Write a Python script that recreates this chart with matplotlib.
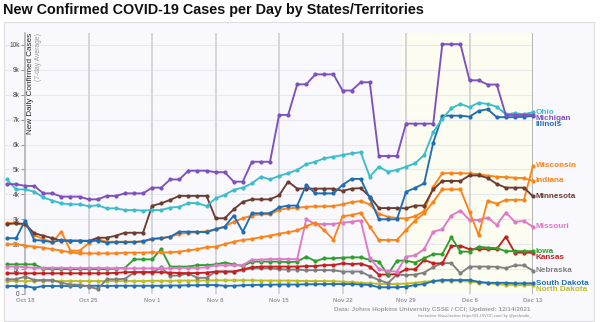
import matplotlib
matplotlib.use("Agg")
import matplotlib.pyplot as plt
import matplotlib.dates as mdates
from matplotlib.patches import Rectangle
import pandas as pd

plt.rcParams["font.family"] = ["Liberation Sans", "DejaVu Sans"]

# 7-day average of new daily cases, in thousands, Oct 16 .. Dec 13 2021
dates = pd.date_range("2021-10-16", "2021-12-13", freq="D")

ohio = [4.60, 4.20, 4.20, 4.11, 3.88, 3.75, 3.64, 3.60, 3.60, 3.53,
        3.56, 3.44, 3.44, 3.37, 3.37, 3.35, 3.37, 3.37, 3.47, 3.50,
        3.65, 3.65, 3.53, 3.84, 3.98, 4.18, 4.27, 4.44, 4.71, 4.60,
        4.74, 4.85, 4.98, 5.21, 5.31, 5.45, 5.51, 5.58, 5.65, 5.69,
        4.71, 5.11, 4.91, 4.98, 5.11, 5.25, 5.58, 6.50, 7.03, 7.46,
        7.63, 7.50, 7.68, 7.63, 7.52, 7.22, 7.26, 7.22, 7.30]
michigan = [4.41, 4.41, 4.34, 4.34, 4.04, 4.04, 3.91, 3.91, 3.91, 3.80,
            3.80, 3.94, 3.94, 4.04, 4.04, 4.04, 4.27, 4.27, 4.60, 4.60,
            4.95, 4.95, 4.95, 4.89, 4.89, 4.51, 4.51, 5.31, 5.31, 5.31,
            7.19, 7.19, 8.42, 8.42, 8.82, 8.82, 8.82, 8.17, 8.17, 8.50,
            8.50, 5.54, 5.54, 5.54, 6.84, 6.84, 6.84, 6.84, 10.03, 10.03,
            10.03, 8.58, 8.58, 8.41, 8.41, 7.19, 7.19, 7.19, 7.20]
illinois = [2.24, 2.24, 2.95, 2.17, 2.14, 2.08, 2.17, 2.14, 2.14, 2.14,
            2.14, 2.06, 2.08, 2.08, 2.08, 2.12, 2.22, 2.24, 2.30, 2.50,
            2.50, 2.50, 2.48, 2.60, 2.70, 3.15, 2.50, 3.24, 3.24, 3.24,
            3.48, 3.55, 3.55, 4.38, 4.04, 4.04, 4.04, 4.38, 4.62, 4.62,
            3.85, 3.00, 3.00, 3.00, 4.10, 4.26, 4.44, 6.08, 7.16, 7.16,
            7.16, 7.12, 7.35, 7.42, 7.10, 7.10, 7.10, 7.12, 7.15]
wisconsin = [2.00, 2.00, 1.94, 1.90, 1.86, 1.80, 1.74, 1.67, 1.63, 1.63,
             1.63, 1.63, 1.63, 1.66, 1.66, 1.66, 1.67, 1.67, 1.67, 1.70,
             1.75, 1.80, 1.88, 1.90, 2.00, 2.10, 2.17, 2.21, 2.28, 2.34,
             2.42, 2.48, 2.55, 2.72, 2.87, 2.55, 2.18, 3.12, 3.17, 3.26,
             2.70, 2.17, 2.17, 2.17, 2.57, 2.95, 3.24, 3.70, 4.20, 4.20,
             4.20, 3.30, 2.37, 3.75, 3.62, 3.78, 3.78, 3.78, 5.15]
indiana = [2.84, 2.84, 2.77, 2.37, 2.20, 2.08, 2.50, 1.74, 1.74, 2.04,
           2.20, 2.10, 2.10, 2.10, 2.10, 2.10, 2.20, 2.24, 2.30, 2.41,
           2.46, 2.48, 2.52, 2.60, 2.70, 2.90, 3.04, 3.15, 3.20, 3.20,
           3.38, 3.44, 3.46, 3.50, 3.52, 3.52, 3.53, 3.60, 3.69, 3.73,
           3.60, 3.22, 3.10, 3.05, 3.03, 3.12, 3.33, 4.30, 4.85, 4.85,
           4.85, 4.84, 4.81, 4.75, 4.71, 4.69, 4.67, 4.65, 4.54]
minnesota = [2.81, 2.84, 2.81, 2.44, 2.34, 2.24, 2.14, 2.14, 2.14, 2.12,
             2.26, 2.26, 2.34, 2.46, 2.46, 2.46, 3.54, 3.64, 3.78, 3.94,
             3.94, 3.94, 3.94, 3.04, 3.04, 3.40, 3.70, 3.80, 3.80, 3.80,
             3.96, 4.51, 4.23, 4.23, 4.23, 4.23, 4.23, 4.14, 4.23, 4.25,
             3.91, 3.45, 3.45, 3.45, 3.44, 3.55, 3.55, 4.20, 4.54, 4.54,
             4.54, 4.76, 4.76, 4.66, 4.42, 4.27, 4.27, 4.27, 3.92]
missouri = [1.10, 1.10, 1.08, 1.05, 1.05, 1.05, 1.05, 1.04, 1.04, 1.04,
            1.04, 1.04, 1.03, 1.03, 1.03, 1.03, 1.03, 1.03, 1.03, 1.05,
            1.05, 1.05, 1.07, 1.15, 1.15, 1.15, 1.16, 1.38, 1.38, 1.40,
            1.40, 1.40, 1.40, 3.00, 2.81, 2.81, 2.81, 2.87, 2.90, 2.95,
            1.45, 1.00, 0.92, 0.90, 1.50, 1.55, 1.80, 2.50, 2.60, 3.15,
            3.35, 2.97, 2.97, 3.07, 2.77, 3.27, 2.90, 2.93, 2.70]
iowa = [1.19, 1.19, 1.19, 1.19, 1.02, 1.00, 1.00, 1.00, 1.00, 1.00,
        1.00, 1.00, 1.02, 1.05, 1.39, 1.39, 1.39, 1.80, 1.10, 1.10,
        1.10, 1.16, 1.16, 1.19, 1.26, 1.19, 1.12, 1.30, 1.30, 1.30,
        1.30, 1.28, 1.30, 1.50, 1.32, 1.43, 1.43, 1.46, 1.47, 1.47,
        1.37, 1.30, 0.78, 1.34, 1.34, 1.26, 1.43, 1.60, 1.60, 2.28,
        1.70, 1.70, 1.90, 1.86, 1.84, 1.72, 1.72, 1.72, 1.72]
kansas = [0.83, 0.83, 0.83, 0.83, 0.83, 0.83, 0.83, 0.83, 0.83, 0.83,
          0.83, 0.83, 0.85, 0.87, 0.88, 0.88, 0.88, 0.87, 0.86, 0.84,
          0.84, 0.84, 0.86, 0.90, 0.90, 0.90, 0.99, 1.07, 1.10, 1.10,
          1.10, 1.10, 1.10, 1.12, 1.12, 1.16, 1.16, 1.23, 1.20, 1.22,
          1.10, 0.78, 0.78, 0.80, 0.99, 0.99, 1.37, 1.23, 1.23, 1.93,
          1.93, 1.80, 1.80, 1.80, 1.80, 2.30, 1.66, 1.66, 1.66]
nebraska = [0.59, 0.59, 0.70, 0.56, 0.56, 0.56, 0.45, 0.38, 0.37, 0.30,
            0.20, 0.59, 0.59, 0.61, 0.86, 0.86, 0.86, 1.07, 0.73, 0.75,
            0.82, 0.65, 0.65, 0.90, 0.90, 0.90, 0.96, 1.03, 1.03, 1.03,
            1.00, 0.98, 0.98, 0.95, 0.96, 0.96, 0.95, 0.90, 0.90, 0.90,
            0.72, 0.56, 0.44, 0.78, 0.76, 0.78, 0.86, 1.08, 1.24, 1.24,
            0.83, 1.10, 1.10, 1.10, 1.09, 1.04, 1.15, 1.15, 0.94]
south_dakota = [0.32, 0.32, 0.32, 0.25, 0.32, 0.32, 0.32, 0.32, 0.32, 0.33,
                0.33, 0.32, 0.33, 0.33, 0.33, 0.33, 0.33, 0.33, 0.34, 0.34,
                0.35, 0.35, 0.36, 0.36, 0.33, 0.33, 0.35, 0.36, 0.37, 0.37,
                0.38, 0.38, 0.38, 0.39, 0.39, 0.40, 0.40, 0.40, 0.40, 0.38,
                0.36, 0.27, 0.27, 0.27, 0.29, 0.36, 0.40, 0.52, 0.56, 0.56,
                0.56, 0.56, 0.49, 0.45, 0.45, 0.45, 0.43, 0.43, 0.43]
north_dakota = [0.52, 0.52, 0.52, 0.52, 0.52, 0.52, 0.52, 0.52, 0.52, 0.52,
                0.52, 0.52, 0.52, 0.52, 0.52, 0.52, 0.53, 0.53, 0.53, 0.54,
                0.54, 0.54, 0.54, 0.55, 0.55, 0.55, 0.55, 0.55, 0.54, 0.54,
                0.54, 0.54, 0.53, 0.52, 0.52, 0.52, 0.51, 0.50, 0.48, 0.45,
                0.43, 0.41, 0.40, 0.40, 0.42, 0.45, 0.49, 0.52, 0.53, 0.53,
                0.52, 0.50, 0.46, 0.43, 0.40, 0.37, 0.36, 0.36, 0.36]

series = [
    ("North Dakota", north_dakota, "#bdbd24"),
    ("South Dakota", south_dakota, "#2271b5"),
    ("Nebraska", nebraska, "#7f7f7f"),
    ("Kansas", kansas, "#c81e1e"),
    ("Iowa", iowa, "#2fa02c"),
    ("Missouri", missouri, "#de78c8"),
    ("Wisconsin", wisconsin, "#fb8318"),
    ("Indiana", indiana, "#fb8318"),
    ("Minnesota", minnesota, "#6e3b31"),
    ("Illinois", illinois, "#1f6db3"),
    ("Ohio", ohio, "#3bbdcc"),
    ("Michigan", michigan, "#7e4fbf"),
]
for name, vals, _ in series:
    assert len(vals) == len(dates), name

W, H = 600, 322
fig = plt.figure(figsize=(W / 100, H / 100), dpi=100)
fig.patch.set_facecolor("white")

# light panel behind the chart
fig.patches.append(Rectangle((4 / W, 1 - 321 / H), 590 / W, 299 / H,
                             transform=fig.transFigure, facecolor="#f9f8fc",
                             edgecolor="#dcdce2", lw=0.8, zorder=-1))

ax = fig.add_axes([4 / W, 1 - 294 / H, 529 / W, 261.5 / H])
ax.set_zorder(1)
ax.patch.set_alpha(0)
day_px = 526 / 58
ax.set_xlim(mdates.date2num(dates[0]) - 3 / day_px, mdates.date2num(dates[-1]))
ax.set_ylim(0, 10.5)

# recent (still changing) data shaded
ax.axvspan(pd.Timestamp("2021-11-28 12:00"), dates[-1], color="#fcfcf0", zorder=0, lw=0)

for k in range(1, 11):
    ax.axhline(k, color="#e8e8f0", lw=0.8, zorder=1)

weeks = pd.date_range("2021-10-18", "2021-12-13", freq="7D")
for d in weeks[1:-1]:
    ax.axvline(d, color="#cfcfd5", lw=1.2, zorder=1)
ax.axvline(weeks[-1], color="#a8a8ae", lw=1.2, zorder=1)

for s in ["top", "right", "bottom"]:
    ax.spines[s].set_visible(False)
ax.spines["left"].set_position(("data", mdates.date2num(weeks[0])))
ax.spines["left"].set_color("#b0b0b6")
ax.spines["left"].set_linewidth(1.2)

ax.set_xticks(weeks)
ax.set_xticklabels([d.strftime("%b ") + str(d.day) for d in weeks])
ax.tick_params(axis="x", length=0, labelsize=4.3, labelcolor="#9a9a9a", pad=3)
for t in ax.get_xticklabels():
    t.set_fontweight("bold")
ax.set_yticks(range(0, 11))
ax.set_yticklabels(["0"] + [f"{k}k" for k in range(1, 11)])
ax.tick_params(axis="y", length=3, width=0.6, color="#888888", labelsize=4.7,
               labelcolor="#444444", pad=1)

for name, vals, color in series:
    ax.plot(dates, vals, color=color, lw=1.35, marker="o", markersize=3.0,
            markeredgewidth=0, zorder=3, clip_on=False)

# end labels, pushed apart so they don't overlap
ends = sorted([(vals[-1], name, color) for name, vals, color in series], reverse=True)
gap = 0.24
prev = None
for v, name, color in ends:
    y = v if prev is None else min(v, prev - gap)
    prev = y
    ax.text(mdates.date2num(dates[-1]) + 0.3, y, name, color=color, fontsize=5.9,
            fontweight="bold", va="center", ha="left", clip_on=False)

fig.text(3 / W, 1 - 10 / H, "New Confirmed COVID-19 Cases per Day by States/Territories",
         fontsize=10.4, fontweight="bold", va="center", ha="left", color="#111111")
fig.text(31 / W, 1 - 33 / H, "New Daily Confirmed Cases", rotation=90, fontsize=5.9,
         va="top", ha="center", color="#222222", zorder=5)
fig.text(39 / W, 1 - 33 / H, "(7-day Average)", rotation=90, fontsize=4.9,
         va="top", ha="center", color="#9a9a9a", zorder=5)
fig.text(530 / W, 1 - 309 / H, "Data: Johns Hopkins University CSSE / CCI; Updated: 12/14/2021",
         fontsize=4.6, fontweight="bold", va="center", ha="right", color="#a0a0a0")
fig.text(532 / W, 1 - 316 / H, "Interactive Visualization: https://91-DIVOC.com/ by @profwade_",
         fontsize=2.9, va="center", ha="right", color="#8a8a8a")

fig.savefig("out.png", dpi=100)
